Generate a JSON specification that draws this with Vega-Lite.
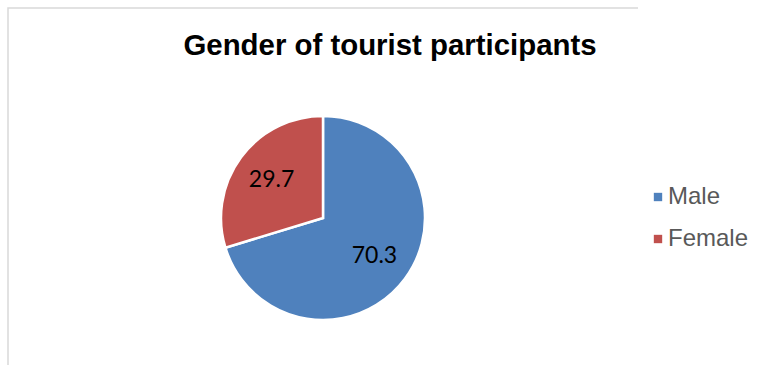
{
  "$schema": "https://vega.github.io/schema/vega-lite/v6.json",
  "autosize": {"type": "none"},
  "width": 630,
  "height": 420,
  "padding": {"left": 8, "top": 8, "right": 125, "bottom": 0},
  "background": "white",
  "view": {"stroke": "#D9D9D9", "strokeWidth": 1.5, "strokeDash": [630, 1050, 420]},
  "title": {
    "text": "Gender of tourist participants",
    "font": "Liberation Sans",
    "fontSize": 29.4,
    "fontWeight": "bold",
    "color": "#000000",
    "anchor": "middle",
    "baseline": "alphabetic",
    "offset": 0,
    "dx": 67,
    "dy": 76
  },
  "data": {
    "values": [
      {"gender": "Male", "value": 70.3},
      {"gender": "Female", "value": 29.7}
    ]
  },
  "encoding": {
    "theta": {"field": "value", "type": "quantitative", "stack": true},
    "order": {"field": "gender", "sort": "descending"},
    "color": {
      "field": "gender",
      "type": "nominal",
      "scale": {"domain": ["Male", "Female"], "range": ["#4F81BD", "#C0504D"]},
      "legend": {
        "title": null,
        "orient": "none",
        "legendX": 638,
        "legendY": 177,
        "symbolType": "square",
        "symbolSize": 70,
        "symbolStrokeWidth": 0,
        "labelFont": "Liberation Sans",
        "labelFontSize": 24,
        "labelColor": "#595959",
        "labelOffset": -2,
        "rowPadding": 18,
        "padding": 0
      }
    }
  },
  "layer": [
    {
      "mark": {"type": "arc", "outerRadius": 102, "stroke": "white", "strokeWidth": 2.5}
    },
    {
      "mark": {"type": "text", "radius": 64, "font": "Lato", "fontSize": 23, "color": "#000000", "baseline": "middle", "align": "center"},
      "encoding": {
        "text": {"field": "value", "type": "quantitative", "format": ".1f"},
        "color": {"value": "#000000"}
      }
    }
  ]
}
